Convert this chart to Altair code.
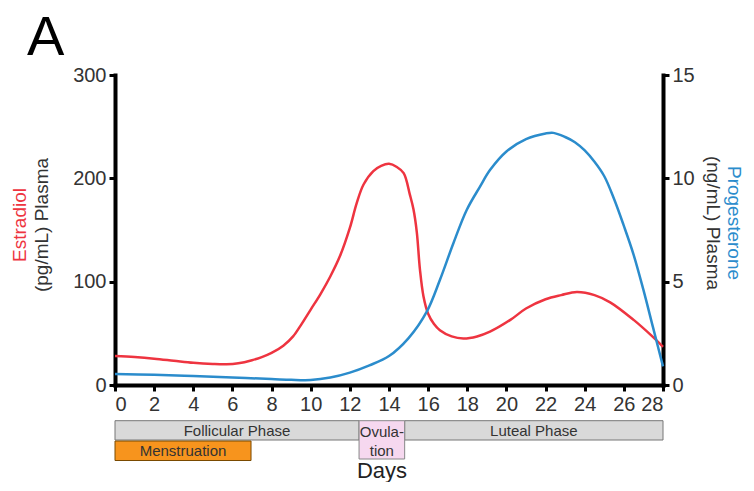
import altair as alt
import pandas as pd

# ---- data ----
estradiol_days = [0, 1, 2, 3, 4, 5, 5.7, 6.3, 7, 7.5, 8, 8.6, 9.1, 9.5, 10, 10.5, 11, 11.5, 12,
                  12.35, 12.7, 13.2, 13.6, 14, 14.4, 14.75, 15.07, 15.25, 15.42, 15.58, 15.76,
                  16, 16.3, 16.6, 17.2, 17.8, 18.5, 19.16, 20.2, 21, 22, 22.8, 23.6, 24.5, 25.3,
                  26.5, 27.4, 28]
estradiol_vals = [28, 27, 25.5, 23.5, 21.5, 20.3, 20, 21, 24, 27, 31, 38, 47, 58, 73, 88, 105, 125, 152,
                  176, 194, 207, 212, 214, 211, 205, 184, 170, 148, 112, 86,
                  69, 59, 53, 47, 45, 47, 51.6, 63, 74, 83, 87, 90, 87, 80,
                  63, 48, 37]

prog_days = [0, 2, 4, 6, 8, 9, 10, 11, 12, 13, 14, 15, 15.93, 16.6, 17.29, 17.97, 18.65, 19.16, 20,
             21, 22, 22.4, 23, 23.5, 24, 24.5, 25, 25.5, 26, 26.5, 27, 27.5, 28]
prog_vals = [0.53, 0.49, 0.43, 0.36, 0.29, 0.25, 0.24, 0.36, 0.6, 0.95, 1.4, 2.27, 3.55, 5.08, 6.86,
             8.47, 9.6, 10.4, 11.3, 11.9, 12.17, 12.2, 12.0, 11.75, 11.35, 10.8, 10.1, 9.0, 7.7,
             6.3, 4.6, 2.75, 0.9]

row_phases = ["Follicular Phase", "Luteal Phase"]
row_starts = [0, 14.8]
row_ends = [12.47, 28]
ovulation_start = [12.47]
ovulation_end = [14.8]
menstruation_start = [0]
menstruation_end = [6.95]

x_ticks = list(range(0, 29, 2))
left_ticks = [0, 100, 200, 300]
right_ticks = [0, 5, 10, 15]

RED = "#ee3440"
BLUE = "#2b8ccc"
FONT = "Liberation Sans"
W, H = 548, 310

est_df = pd.DataFrame({"day": estradiol_days, "value": estradiol_vals})
prog_df = pd.DataFrame({"day": prog_days, "value": prog_vals})
dummy = pd.DataFrame({"k": [0]})

axis_style = dict(domainColor="black", domainWidth=4, tickColor="black", tickWidth=3,
                  tickSize=6, labelColor="#333333", labelFont=FONT, labelFontSize=20,
                  grid=False, domainCap="square", labelOverlap=False, labelPadding=3)

xscale = alt.Scale(domain=[0, 28], nice=False)
xaxis = alt.Axis(values=x_ticks, title=None, **axis_style)

est = alt.Chart(est_df).mark_line(color=RED, strokeWidth=2.5, interpolate="catmull-rom").encode(
    x=alt.X("day:Q", scale=xscale, axis=xaxis),
    y=alt.Y("value:Q", scale=alt.Scale(domain=[0, 300], nice=False),
            axis=alt.Axis(values=left_ticks, orient="left", title=None, **axis_style)),
)

prog = alt.Chart(prog_df).mark_line(color=BLUE, strokeWidth=2.5, interpolate="catmull-rom").encode(
    x=alt.X("day:Q", scale=xscale, axis=xaxis),
    y=alt.Y("value:Q", scale=alt.Scale(domain=[0, 15], nice=False),
            axis=alt.Axis(values=right_ticks, orient="right", title=None, **axis_style)),
)

row_df = pd.DataFrame({"day": row_starts, "day_end": row_ends, "name": row_phases})
ov_df = pd.DataFrame({"day": ovulation_start, "day_end": ovulation_end})
men_df = pd.DataFrame({"day": menstruation_start, "day_end": menstruation_end, "name": ["Menstruation"]})

row_rect = alt.Chart(row_df).mark_rect(fill="#d9d9d9", stroke="#777777", strokeWidth=1).encode(
    x=alt.X("day:Q", scale=xscale, axis=xaxis), x2="day_end:Q",
    y=alt.value(345.7), y2=alt.value(365))
row_text = alt.Chart(row_df).transform_calculate(mid="(datum.day + datum.day_end) / 2").mark_text(
    font=FONT, fontSize=15, color="#333333", baseline="middle").encode(
    x=alt.X("mid:Q", scale=xscale, axis=xaxis), y=alt.value(355.5), text="name:N")

ov_rect = alt.Chart(ov_df).mark_rect(fill="#f6d8ef", stroke="#888888", strokeWidth=1).encode(
    x=alt.X("day:Q", scale=xscale, axis=xaxis), x2="day_end:Q",
    y=alt.value(345.7), y2=alt.value(384))
ov_text = alt.Chart(ov_df).transform_calculate(mid="(datum.day + datum.day_end) / 2").mark_text(
    font=FONT, fontSize=15, color="#333333", baseline="middle", lineHeight=19).encode(
    x=alt.X("mid:Q", scale=xscale, axis=xaxis), y=alt.value(357), text=alt.value(["Ovula-", "tion"]))

men_rect = alt.Chart(men_df).mark_rect(fill="#f7941d", stroke="#7a4a00", strokeWidth=1).encode(
    x=alt.X("day:Q", scale=xscale, axis=xaxis), x2="day_end:Q",
    y=alt.value(366), y2=alt.value(385.5))
men_text = alt.Chart(men_df).transform_calculate(mid="(datum.day + datum.day_end) / 2").mark_text(
    font=FONT, fontSize=15, color="#333333", baseline="middle").encode(
    x=alt.X("mid:Q", scale=xscale, axis=xaxis), y=alt.value(376), text="name:N")


def label(txt, x, y, size, color="#333333", angle=0, align="center", baseline="middle"):
    return alt.Chart(dummy).mark_text(text=txt, font=FONT, fontSize=size, color=color,
                                      angle=angle, align=align, baseline=baseline).encode(
        x=alt.value(x), y=alt.value(y))


labels = [
    label("A", -88, -20, 56, color="black", align="left", baseline="alphabetic"),
    label("Estradiol", -95, 150, 19, color=RED, angle=270),
    label("(pg/mL) Plasma", -73, 150, 19, angle=270),
    label("Progesterone", 619, 148, 19, color=BLUE, angle=90),
    label("(ng/mL) Plasma", 598, 148, 19, angle=90),
    label("Days", 267, 396, 22, color="#222222"),
]

lines = alt.layer(est, prog).resolve_scale(y="independent")

chart = alt.layer(
    lines, row_rect, row_text, ov_rect, ov_text, men_rect, men_text, *labels
).resolve_scale(y="independent").properties(
    width=W, height=H,
    autosize=alt.AutoSizeParams(type="none"),
    padding={"left": 107, "top": 67, "right": 82, "bottom": 97},
).configure_view(strokeWidth=0)

chart.save("out.html", embed_options={"renderer": "svg", "actions": False})
